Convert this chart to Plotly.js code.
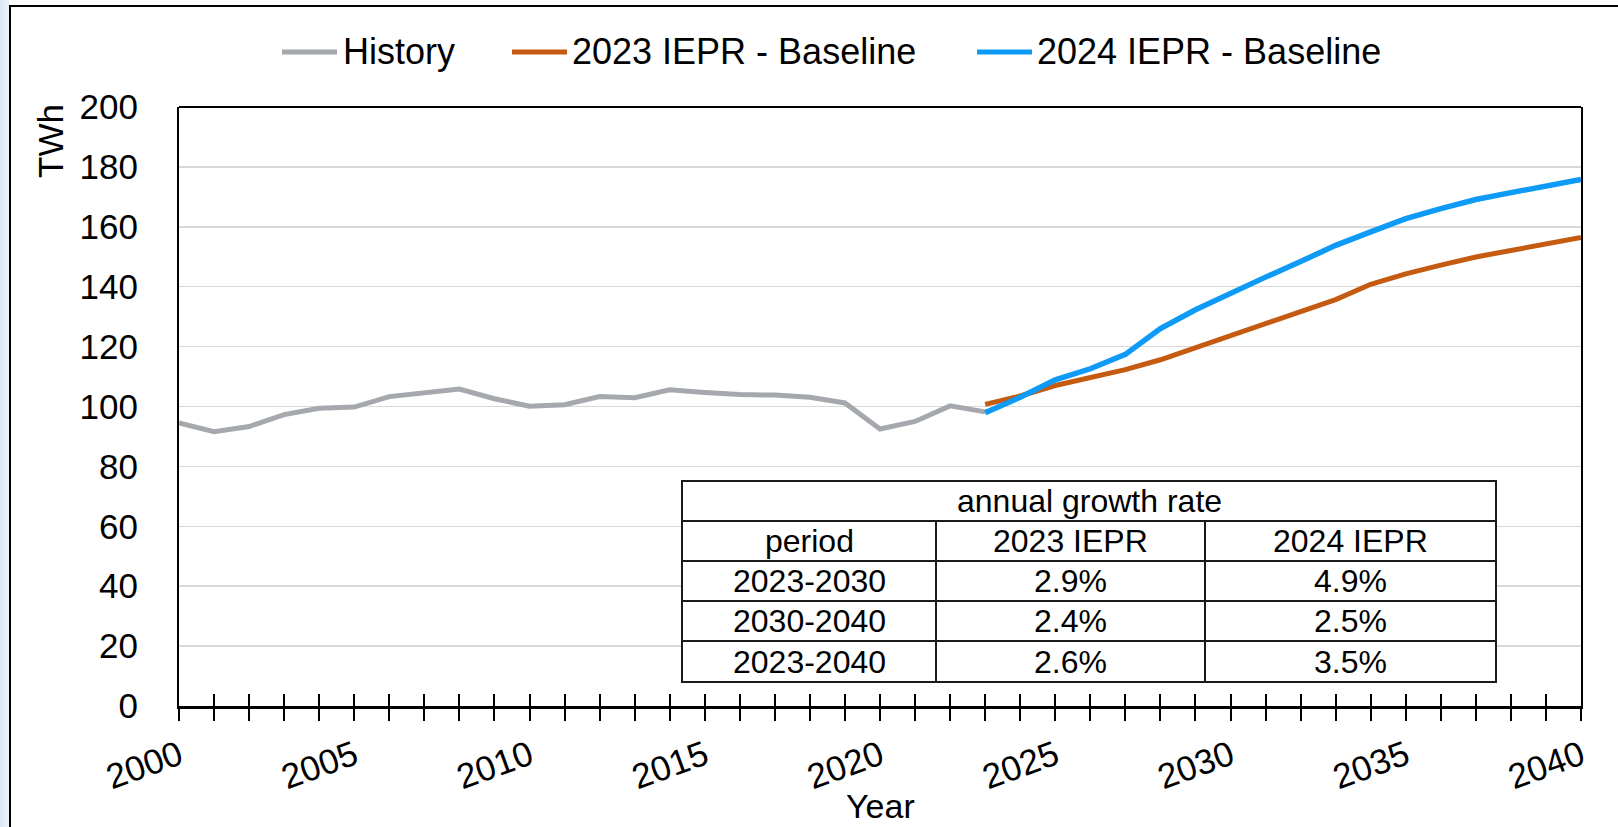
<!DOCTYPE html>
<html>
<head>
<meta charset="utf-8">
<script src="https://cdn.plot.ly/plotly-3.0.1.min.js"></script>
<style>
html,body{margin:0;padding:0;background:#fff;}
#wrap{position:relative;width:1618px;height:827px;overflow:hidden;}
#chart{position:absolute;left:0;top:0;width:1618px;height:827px;}
#strip{position:absolute;left:0;top:0;width:9px;height:827px;background:linear-gradient(to right,#dbe7f3,#edf3f9);pointer-events:none;}
#bl{position:absolute;left:9px;top:5px;width:2px;height:822px;background:#000;pointer-events:none;}
#bt{position:absolute;left:9px;top:5px;width:1609px;height:2px;background:#000;pointer-events:none;}
</style>
</head>
<body>
<div id="wrap">
  <div id="chart"></div>
  <div id="strip"></div>
  <div id="bl"></div>
  <div id="bt"></div>
</div>
<script>
// ---- data ----
const axisYears = [2000,2001,2002,2003,2004,2005,2006,2007,2008,2009,2010,2011,2012,2013,2014,2015,2016,2017,2018,2019,2020,2021,2022,2023,2024,2025,2026,2027,2028,2029,2030,2031,2032,2033,2034,2035,2036,2037,2038,2039,2040];
const labelYears = [2000,2005,2010,2015,2020,2025,2030,2035,2040];

const historyYears = [2000,2001,2002,2003,2004,2005,2006,2007,2008,2009,2010,2011,2012,2013,2014,2015,2016,2017,2018,2019,2020,2021,2022,2023];
const historyTWh   = [94.5,91.6,93.3,97.3,99.4,99.8,103.3,104.6,105.8,102.6,100.1,100.6,103.3,102.9,105.6,104.7,104.0,103.8,103.1,101.2,92.5,95.0,100.2,98.2];

const forecastYears = [2023,2024,2025,2026,2027,2028,2029,2030,2031,2032,2033,2034,2035,2036,2037,2038,2039,2040];
const iepr2023TWh   = [100.7,103.5,107.0,109.8,112.3,115.6,119.6,123.7,127.9,131.9,135.7,140.8,144.3,147.2,149.9,152.1,154.4,156.4];
const iepr2024TWh   = [97.9,103.1,108.9,112.6,117.4,126.0,132.3,137.9,143.2,148.4,153.8,158.3,162.7,166.1,169.1,171.4,173.6,175.8];

const seriesNames  = ['History','2023 IEPR - Baseline','2024 IEPR - Baseline'];
const seriesColors = ['#a5a8ad','#c55a11','#0e9af7'];

const tableTitle   = 'annual growth rate';
const tableHeader  = ['period','2023 IEPR','2024 IEPR'];
const tablePeriods = ['2023-2030','2030-2040','2023-2040'];
const rate2023     = ['2.9%','2.4%','2.6%'];
const rate2024     = ['4.9%','2.5%','3.5%'];

// ---- geometry helpers (pixel -> paper) ----
const W = 1618, H = 827, ML = 179, MR = 37, MT = 107, MB = 121;
const PW = W - ML - MR, PH = H - MT - MB;
const px = v => (v - ML) / PW;
const py = v => (H - MB - v) / PH;

const FONT = 'Liberation Sans, Arial, Helvetica, sans-serif';

const traces = [
  {x: historyYears, y: historyTWh, mode: 'lines', name: seriesNames[0], line: {color: seriesColors[0], width: 5}},
  {x: forecastYears, y: iepr2023TWh, mode: 'lines', name: seriesNames[1], line: {color: seriesColors[1], width: 5}},
  {x: forecastYears, y: iepr2024TWh, mode: 'lines', name: seriesNames[2], line: {color: seriesColors[2], width: 5.5}},
  {x: [], y: [], xaxis: 'x2', yaxis: 'y', mode: 'lines', showlegend: false, hoverinfo: 'skip'}
];

const shapes = [];
const annotations = [];

// top frame line
shapes.push({type: 'line', xref: 'paper', yref: 'paper', x0: 0, x1: 1, y0: 1, y1: 1, line: {color: '#000', width: 2}});

// custom legend
const legLines = [[282, 337], [512, 567], [977, 1032]];
const legText = [342, 571, 1036];
const legY = 52;
seriesNames.forEach((n, i) => {
  shapes.push({type: 'line', xref: 'paper', yref: 'paper', x0: px(legLines[i][0]), x1: px(legLines[i][1]), y0: py(legY), y1: py(legY), line: {color: seriesColors[i], width: 5}});
  annotations.push({xref: 'paper', yref: 'paper', x: px(legText[i]), y: py(legY), xanchor: 'left', yanchor: 'middle', text: n, showarrow: false, font: {family: FONT, size: 36, color: '#000'}, borderpad: 0});
});

// table
const tL = 682, tR = 1496, tCols = [936, 1205];
const tRows = [481, 521, 561, 601, 641, 682];
shapes.push({type: 'rect', xref: 'paper', yref: 'paper', x0: px(tL), x1: px(tR), y0: py(tRows[0]), y1: py(tRows[5]), fillcolor: '#fff', line: {color: '#1a1a1a', width: 2}});
for (let r = 1; r < 5; r++) {
  shapes.push({type: 'line', xref: 'paper', yref: 'paper', x0: px(tL), x1: px(tR), y0: py(tRows[r]), y1: py(tRows[r]), line: {color: '#1a1a1a', width: 2}});
}
tCols.forEach(c => shapes.push({type: 'line', xref: 'paper', yref: 'paper', x0: px(c), x1: px(c), y0: py(tRows[1]), y1: py(tRows[5]), line: {color: '#1a1a1a', width: 2}}));
const colCenters = [(tL + tCols[0]) / 2, (tCols[0] + tCols[1]) / 2, (tCols[1] + tR) / 2];
const cell = (text, cx, r) => annotations.push({xref: 'paper', yref: 'paper', x: px(cx), y: py((tRows[r] + tRows[r + 1]) / 2), xanchor: 'center', yanchor: 'middle', text: text, showarrow: false, font: {family: FONT, size: 32, color: '#000'}, borderpad: 0});
cell(tableTitle, (tL + tR) / 2, 0);
tableHeader.forEach((t, i) => cell(t, colCenters[i], 1));
tablePeriods.forEach((p, i) => {
  cell(p, colCenters[0], i + 2);
  cell(rate2023[i], colCenters[1], i + 2);
  cell(rate2024[i], colCenters[2], i + 2);
});

// axis titles as annotations
annotations.push({xref: 'paper', yref: 'paper', x: px(881), y: py(806), xanchor: 'center', yanchor: 'middle', text: 'Year', showarrow: false, font: {family: FONT, size: 34, color: '#000'}});
annotations.push({xref: 'paper', yref: 'paper', x: px(50), y: py(141), xanchor: 'center', yanchor: 'middle', text: 'TWh', textangle: -90, showarrow: false, font: {family: FONT, size: 35, color: '#000'}});

const layout = {
  width: W, height: H,
  margin: {l: ML, r: MR, t: MT, b: MB},
  paper_bgcolor: '#fff', plot_bgcolor: '#fff',
  font: {family: FONT, size: 35, color: '#000'},
  showlegend: false,
  xaxis: {
    range: [2000, 2040], tickmode: 'array', tickvals: axisYears,
    ticktext: axisYears.map(y => labelYears.includes(y) ? String(y) : ''),
    tickangle: -20, ticks: 'outside', ticklen: 12, tickwidth: 2, tickcolor: '#000',
    showline: true, linewidth: 3, linecolor: '#000', showgrid: false, zeroline: false,
    tickfont: {family: FONT, size: 35, color: '#000'}, ticklabelstandoff: 1
  },
  xaxis2: {
    overlaying: 'x', anchor: 'y', side: 'bottom', range: [2000, 2040], tickmode: 'array', tickvals: axisYears,
    ticks: 'inside', ticklen: 12, tickwidth: 2, tickcolor: '#000', showticklabels: false,
    showline: false, showgrid: false, zeroline: false
  },
  yaxis: {
    range: [0, 200], tick0: 0, dtick: 20, showgrid: true, gridcolor: '#d9d9d9', gridwidth: 1.5,
    showline: true, linewidth: 2, linecolor: '#000', mirror: true, zeroline: false,
    ticks: '', ticklabelstandoff: 32, tickfont: {family: FONT, size: 35, color: '#000'}
  },
  shapes: shapes,
  annotations: annotations
};

Plotly.newPlot('chart', traces, layout, {staticPlot: true, displayModeBar: false});
</script>
</body>
</html>
